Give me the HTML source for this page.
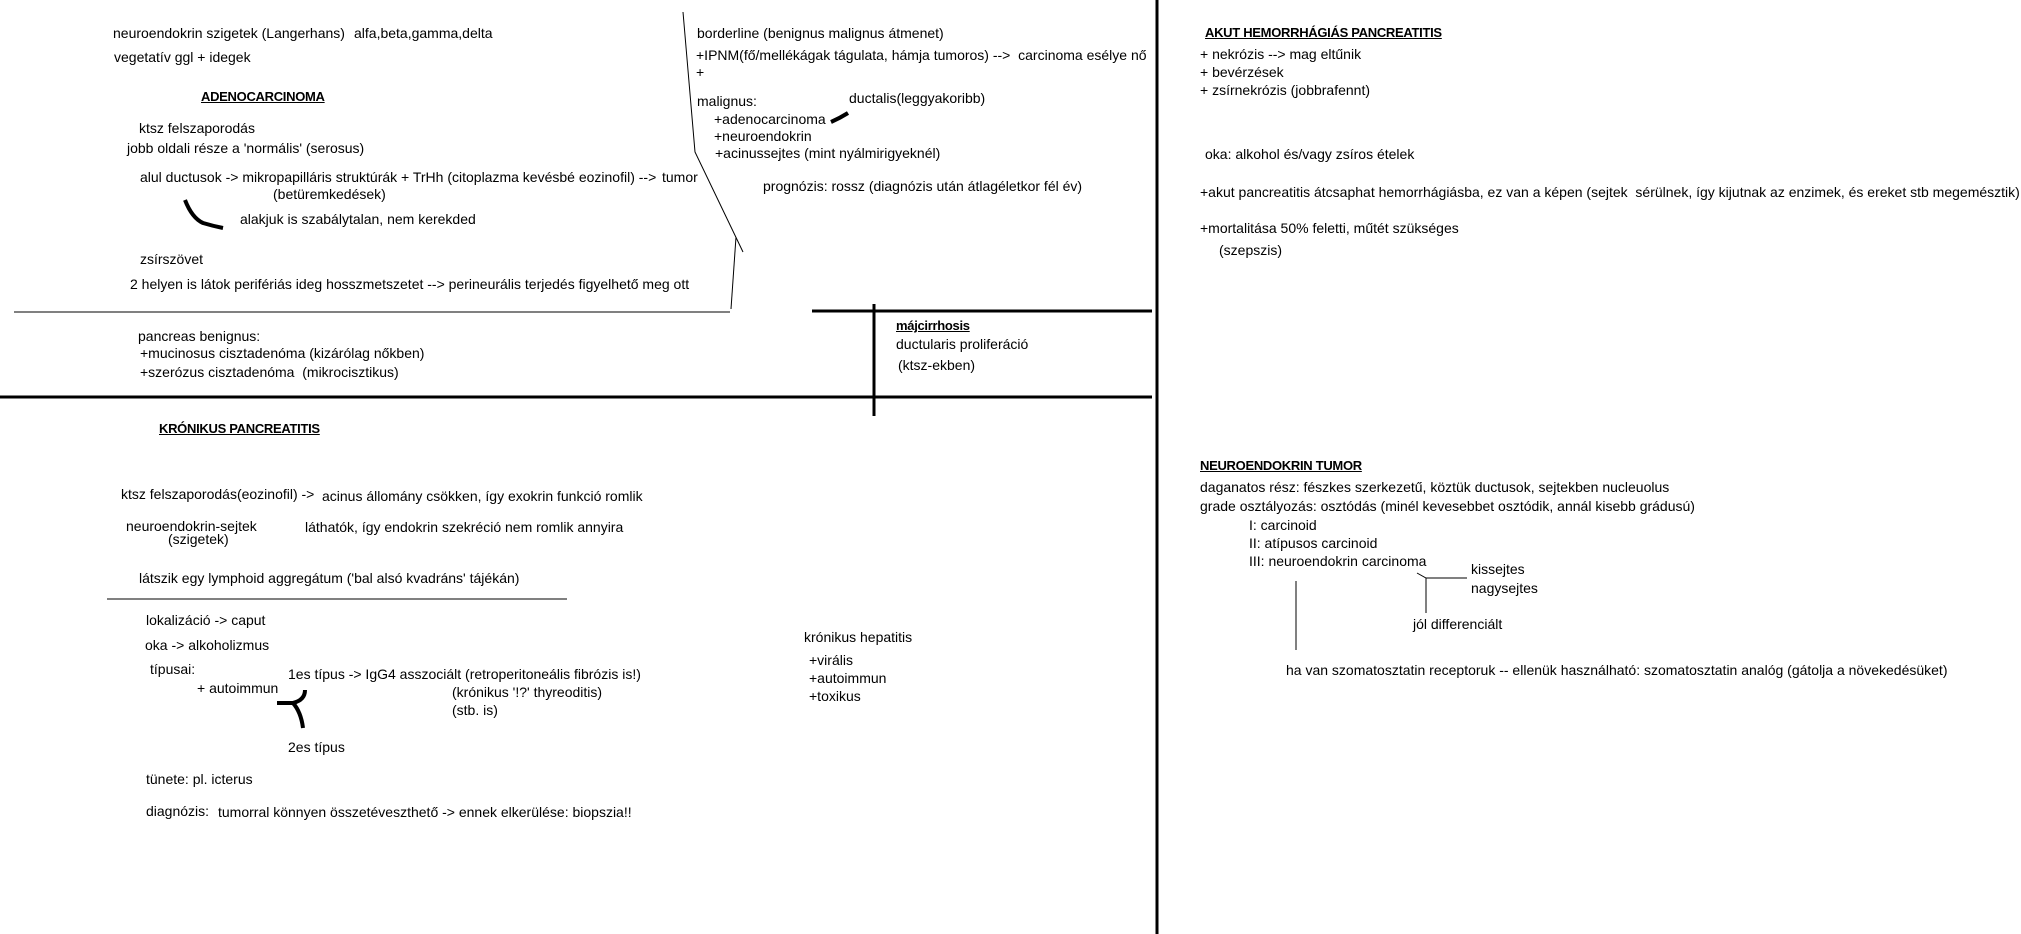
<!DOCTYPE html>
<html><head><meta charset="utf-8"><style>
html,body{margin:0;padding:0;background:#fff;}
body{width:2021px;height:934px;position:relative;overflow:hidden;font-family:"Liberation Sans",sans-serif;font-size:14px;color:#000;}
.t{position:absolute;white-space:nowrap;line-height:16px;}
.h{font-weight:bold;text-decoration:underline;letter-spacing:-0.3px;font-size:13px;}
svg{position:absolute;left:0;top:0;}
</style></head><body>
<svg width="2021" height="934" viewBox="0 0 2021 934">
<g stroke="#000" fill="none">
<line x1="1157" y1="0" x2="1157" y2="934" stroke-width="3"/>
<line x1="0" y1="397" x2="1152" y2="397" stroke-width="3"/>
<line x1="812" y1="311" x2="1152" y2="311" stroke-width="3"/>
<line x1="874" y1="304" x2="874" y2="416" stroke-width="3"/>
<line x1="14" y1="312" x2="730" y2="312" stroke-width="1"/>
<polyline points="683,12 695,152 743,252" stroke-width="1"/>
<line x1="736" y1="237" x2="731" y2="309" stroke-width="1"/>
<line x1="107" y1="599" x2="567" y2="599" stroke-width="1"/>
<path d="M185,200 Q192,218 203,223 Q213,226 223,228" stroke-width="4"/>
<path d="M831,122 Q840,118 848,113" stroke-width="4"/>
<path d="M305,690 Q305,700 293,703 L277,703 M293,703 Q301,712 303,728" stroke-width="4"/>
<polyline points="1417,573 1426,578 1467,578" stroke-width="1"/>
<line x1="1426" y1="578" x2="1426" y2="613" stroke-width="1"/>
<line x1="1296" y1="581" x2="1296" y2="650" stroke-width="1"/>
</g></svg>

<div class="t" style="left:113px;top:25px">neuroendokrin szigetek (Langerhans)</div>
<div class="t" style="left:354px;top:25px">alfa,beta,gamma,delta</div>
<div class="t" style="left:114px;top:49px">vegetatív ggl + idegek</div>
<div class="t h" style="left:201px;top:89px">ADENOCARCINOMA</div>
<div class="t" style="left:139px;top:120px">ktsz felszaporodás</div>
<div class="t" style="left:127px;top:140px">jobb oldali része a 'normális' (serosus)</div>
<div class="t" style="left:140px;top:169px">alul ductusok -&gt; mikropapilláris struktúrák + TrHh (citoplazma kevésbé eozinofil) --&gt;</div>
<div class="t" style="left:662px;top:169px">tumor</div>
<div class="t" style="left:273px;top:186px">(betüremkedések)</div>
<div class="t" style="left:240px;top:211px">alakjuk is szabálytalan, nem kerekded</div>
<div class="t" style="left:140px;top:251px">zsírszövet</div>
<div class="t" style="left:130px;top:276px">2 helyen is látok perifériás ideg hosszmetszetet --&gt; perineurális terjedés figyelhető meg ott</div>
<div class="t" style="left:138px;top:328px">pancreas benignus:</div>
<div class="t" style="left:140px;top:345px">+mucinosus cisztadenóma (kizárólag nőkben)</div>
<div class="t" style="left:140px;top:364px">+szerózus cisztadenóma&nbsp; (mikrocisztikus)</div>

<div class="t" style="left:697px;top:25px">borderline (benignus malignus átmenet)</div>
<div class="t" style="left:696px;top:47px">+IPNM(fő/mellékágak tágulata, hámja tumoros) --&gt;&nbsp; carcinoma esélye nő</div>
<div class="t" style="left:696px;top:64px">+</div>
<div class="t" style="left:697px;top:93px">malignus:</div>
<div class="t" style="left:849px;top:90px">ductalis(leggyakoribb)</div>
<div class="t" style="left:714px;top:111px">+adenocarcinoma</div>
<div class="t" style="left:714px;top:128px">+neuroendokrin</div>
<div class="t" style="left:715px;top:145px">+acinussejtes (mint nyálmirigyeknél)</div>
<div class="t" style="left:763px;top:178px">prognózis: rossz (diagnózis után átlagéletkor fél év)</div>

<div class="t h" style="left:896px;top:318px">májcirrhosis</div>
<div class="t" style="left:896px;top:336px">ductularis proliferáció</div>
<div class="t" style="left:898px;top:357px">(ktsz-ekben)</div>

<div class="t h" style="left:1205px;top:25px">AKUT HEMORRHÁGIÁS PANCREATITIS</div>
<div class="t" style="left:1200px;top:46px">+ nekrózis --&gt; mag eltűnik</div>
<div class="t" style="left:1200px;top:64px">+ bevérzések</div>
<div class="t" style="left:1200px;top:82px">+ zsírnekrózis (jobbrafennt)</div>
<div class="t" style="left:1205px;top:146px">oka: alkohol és/vagy zsíros ételek</div>
<div class="t" style="left:1200px;top:184px">+akut pancreatitis átcsaphat hemorrhágiásba, ez van a képen (sejtek&nbsp; sérülnek, így kijutnak az enzimek, és ereket stb megemésztik)</div>
<div class="t" style="left:1200px;top:220px">+mortalitása 50% feletti, műtét szükséges</div>
<div class="t" style="left:1219px;top:242px">(szepszis)</div>

<div class="t h" style="left:1200px;top:458px">NEUROENDOKRIN TUMOR</div>
<div class="t" style="left:1200px;top:479px">daganatos rész: fészkes szerkezetű, köztük ductusok, sejtekben nucleuolus</div>
<div class="t" style="left:1200px;top:498px">grade osztályozás: osztódás (minél kevesebbet osztódik, annál kisebb grádusú)</div>
<div class="t" style="left:1249px;top:517px">I: carcinoid</div>
<div class="t" style="left:1249px;top:535px">II: atípusos carcinoid</div>
<div class="t" style="left:1249px;top:553px">III: neuroendokrin carcinoma</div>
<div class="t" style="left:1471px;top:561px">kissejtes</div>
<div class="t" style="left:1471px;top:580px">nagysejtes</div>
<div class="t" style="left:1413px;top:616px">jól differenciált</div>
<div class="t" style="left:1286px;top:662px">ha van szomatosztatin receptoruk -- ellenük használható: szomatosztatin analóg (gátolja a növekedésüket)</div>

<div class="t h" style="left:159px;top:421px">KRÓNIKUS PANCREATITIS</div>
<div class="t" style="left:121px;top:486px">ktsz felszaporodás(eozinofil) -&gt;</div>
<div class="t" style="left:322px;top:488px">acinus állomány csökken, így exokrin funkció romlik</div>
<div class="t" style="left:126px;top:518px">neuroendokrin-sejtek</div>
<div class="t" style="left:305px;top:519px">láthatók, így endokrin szekréció nem romlik annyira</div>
<div class="t" style="left:168px;top:531px">(szigetek)</div>
<div class="t" style="left:139px;top:570px">látszik egy lymphoid aggregátum ('bal alsó kvadráns' tájékán)</div>
<div class="t" style="left:146px;top:612px">lokalizáció -&gt; caput</div>
<div class="t" style="left:145px;top:637px">oka -&gt; alkoholizmus</div>
<div class="t" style="left:150px;top:661px">típusai:</div>
<div class="t" style="left:197px;top:680px">+ autoimmun</div>
<div class="t" style="left:288px;top:666px">1es típus -&gt; IgG4 asszociált (retroperitoneális fibrózis is!)</div>
<div class="t" style="left:452px;top:684px">(krónikus '!?' thyreoditis)</div>
<div class="t" style="left:452px;top:702px">(stb. is)</div>
<div class="t" style="left:288px;top:739px">2es típus</div>
<div class="t" style="left:146px;top:771px">tünete: pl. icterus</div>
<div class="t" style="left:146px;top:803px">diagnózis:</div>
<div class="t" style="left:218px;top:804px">tumorral könnyen összetéveszthető -&gt; ennek elkerülése: biopszia!!</div>

<div class="t" style="left:804px;top:629px">krónikus hepatitis</div>
<div class="t" style="left:809px;top:652px">+virális</div>
<div class="t" style="left:809px;top:670px">+autoimmun</div>
<div class="t" style="left:809px;top:688px">+toxikus</div>
</body></html>
